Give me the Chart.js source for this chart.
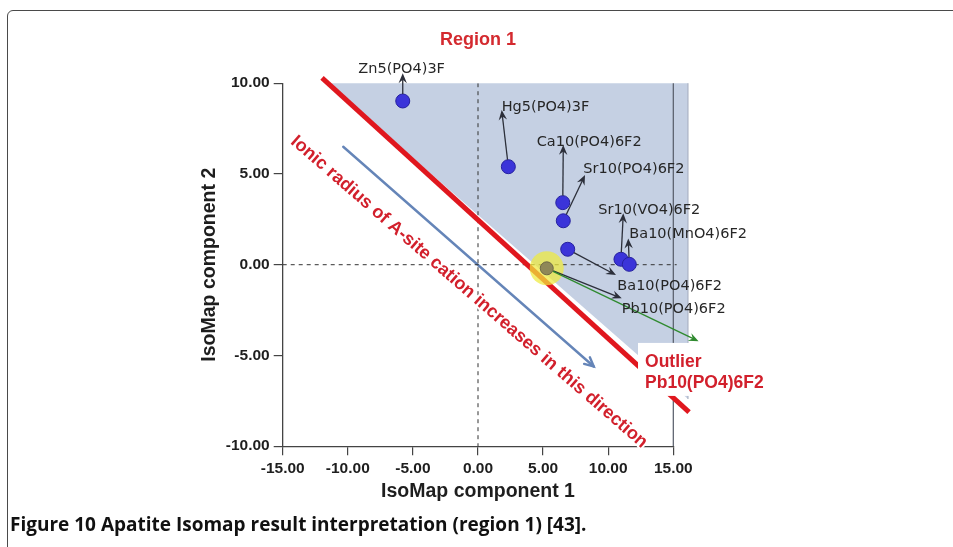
<!DOCTYPE html>
<html>
<head>
<meta charset="utf-8">
<script src="https://cdn.jsdelivr.net/npm/chart.js@4.4.1/dist/chart.umd.min.js"></script>
<style>
  html, body { margin: 0; padding: 0; background: #fff; overflow: hidden; }
  #frame { position: absolute; left: 7px; top: 10px; width: 1000px; height: 600px; border: 1.5px solid #4a4a4a; border-radius: 6px; box-sizing: border-box; }
  #wrap { position: absolute; left: 0; top: 0; width: 953px; height: 547px; }
  #caption { position: absolute; left: 10px; top: 511px; font-family: "Open Sans"; font-weight: 700; font-size: 17px; color: #111; white-space: nowrap; }
</style>
</head>
<body>
<div id="frame"></div>
<div id="wrap"><canvas id="chart" width="953" height="547"></canvas></div>
<div id="caption">Figure 10 Apatite Isomap result interpretation (region 1) [43].</div>
<script>
// axis ticks
const xTicks = [-15, -10, -5, 0, 5, 10, 15];
const yTicks = [-10, -5, 0, 5, 10];

// compounds in region 1 (IsoMap component 1 / 2)
const compounds = ['Zn5(PO4)3F', 'Hg5(PO4)3F', 'Ca10(PO4)6F2', 'Sr10(PO4)6F2', 'Ba10(PO4)6F2', 'Sr10(VO4)6F2', 'Ba10(MnO4)6F2'];
const comp1 = [-5.78, 2.33, 6.51, 6.55, 6.89, 10.98, 11.62];
const comp2 = [9.02, 5.40, 3.42, 2.42, 0.85, 0.30, 0.02];

// the outlier
const outlierName = 'Pb10(PO4)6F2';
const outlier1 = [5.28];
const outlier2 = [-0.20];

// label arrows: tip and text anchor (same order as compounds, then outlier)
const tipX = [-5.78, 1.82, 6.55, 8.22, 10.60, 11.16, 11.54, 11.04];
const tipY = [10.55, 8.52, 6.60, 4.94, -0.57, 2.83, 1.45, -1.85];
const labelX = [-9.19, 1.82, 4.51, 8.09, 10.70, 9.24, 11.62, 11.04];
const labelY = [10.56, 8.47, 6.54, 5.05, -1.39, 2.79, 1.47, -2.66];

// green arrow from the outlier
const greenTip = [16.94, -4.22];

// region 1 boundary and shaded area
const boundX = [-11.98, 16.21];
const boundY = [10.29, -8.12];
const regionX = [-11.54, 16.13, 16.13];
const regionY = [10, 10, -7.4];

// "ionic radius" direction arrow and its text
const dirX = [-10.35, 8.89];
const dirY = [6.50, -5.61];
const dirText = 'Ionic radius of A-site cation increases in this direction';
const dirTextX = [-14.21, 12.83];
const dirTextY = [6.92, -9.93];

// outlier call-out box
const boxX = [12.29, 23.58];
const boxY = [-4.31, -7.23];
const boxText = ['Outlier', 'Pb10(PO4)6F2'];
const boxTextX = [12.83, 12.83];
const boxTextY = [-5.64, -6.79];

const pts = (xs, ys) => xs.map((x, i) => ({ x, y: ys[i] }));

function arrowHead(ctx, x1, y1, x2, y2, color, len) {
  const a = Math.atan2(y2 - y1, x2 - x1), c = Math.cos(a), s = Math.sin(a), w = len * 0.42;
  ctx.fillStyle = color;
  ctx.beginPath();
  ctx.moveTo(x2, y2);
  ctx.lineTo(x2 - len * c + w * s, y2 - len * s - w * c);
  ctx.lineTo(x2 - len * 0.65 * c, y2 - len * 0.65 * s);
  ctx.lineTo(x2 - len * c - w * s, y2 - len * s + w * c);
  ctx.closePath();
  ctx.fill();
}

function arrow(ctx, x1, y1, x2, y2, color, width, len, gap) {
  const a = Math.atan2(y2 - y1, x2 - x1), c = Math.cos(a), s = Math.sin(a);
  ctx.strokeStyle = color; ctx.lineWidth = width;
  ctx.beginPath();
  ctx.moveTo(x1 + gap * c, y1 + gap * s);
  ctx.lineTo(x2 - len * 0.6 * c, y2 - len * 0.6 * s);
  ctx.stroke();
  arrowHead(ctx, x1, y1, x2, y2, color, len);
}

const overlay = {
  id: 'overlay',
  beforeDatasetsDraw(chart) {
    const { ctx, scales: { x, y } } = chart;
    ctx.save();
    // shaded region
    ctx.fillStyle = '#c5d0e3';
    ctx.beginPath();
    regionX.forEach((v, i) => {
      const px = x.getPixelForValue(v), py = y.getPixelForValue(regionY[i]);
      i ? ctx.lineTo(px, py) : ctx.moveTo(px, py);
    });
    ctx.closePath();
    ctx.fill();
    ctx.strokeStyle = '#a3abbd'; ctx.lineWidth = 1;
    ctx.beginPath();
    ctx.moveTo(x.getPixelForValue(regionX[1]), y.getPixelForValue(regionY[1]));
    ctx.lineTo(x.getPixelForValue(regionX[2]), y.getPixelForValue(regionY[2]));
    ctx.stroke();

    // direction arrow
    const ax1 = x.getPixelForValue(dirX[0]), ay1 = y.getPixelForValue(dirY[0]);
    const ax2 = x.getPixelForValue(dirX[1]), ay2 = y.getPixelForValue(dirY[1]);
    ctx.strokeStyle = '#6585b8'; ctx.lineWidth = 2.4; ctx.lineCap = 'round';
    ctx.beginPath(); ctx.moveTo(ax1, ay1); ctx.lineTo(ax2, ay2); ctx.stroke();
    const a = Math.atan2(ay2 - ay1, ax2 - ax1);
    ctx.beginPath();
    ctx.moveTo(ax2 - 10 * Math.cos(a - 0.45), ay2 - 10 * Math.sin(a - 0.45));
    ctx.lineTo(ax2, ay2);
    ctx.lineTo(ax2 - 10 * Math.cos(a + 0.45), ay2 - 10 * Math.sin(a + 0.45));
    ctx.stroke();
    ctx.restore();
  },
  afterDatasetsDraw(chart) {
    const { ctx, scales: { x, y } } = chart;
    ctx.save();
    const srcX = comp1.concat(outlier1), srcY = comp2.concat(outlier2);
    const names = compounds.concat([outlierName]);

    // label arrows
    names.forEach((n, i) => {
      arrow(ctx, x.getPixelForValue(srcX[i]), y.getPixelForValue(srcY[i]),
        x.getPixelForValue(tipX[i]), y.getPixelForValue(tipY[i]), '#2c2f3a', 1.3, 10, 7);
    });
    arrow(ctx, x.getPixelForValue(outlier1[0]), y.getPixelForValue(outlier2[0]),
      x.getPixelForValue(greenTip[0]), y.getPixelForValue(greenTip[1]), '#2f8a2f', 1.3, 10, 7);

    // compound labels
    ctx.font = '14.5px "DejaVu Sans"';
    ctx.fillStyle = '#262626';
    ctx.textAlign = 'left'; ctx.textBaseline = 'alphabetic';
    names.forEach((n, i) => ctx.fillText(n, x.getPixelForValue(labelX[i]), y.getPixelForValue(labelY[i])));

    // rotated direction text
    const tx1 = x.getPixelForValue(dirTextX[0]), ty1 = y.getPixelForValue(dirTextY[0]);
    const tx2 = x.getPixelForValue(dirTextX[1]), ty2 = y.getPixelForValue(dirTextY[1]);
    const len = Math.hypot(tx2 - tx1, ty2 - ty1);
    ctx.font = 'bold 16px "Liberation Sans"';
    const size = 16 * len / ctx.measureText(dirText).width;
    ctx.font = 'bold ' + size.toFixed(2) + 'px "Liberation Sans"';
    ctx.translate((tx1 + tx2) / 2, (ty1 + ty2) / 2);
    ctx.rotate(Math.atan2(ty2 - ty1, tx2 - tx1));
    ctx.textAlign = 'center'; ctx.textBaseline = 'middle';
    ctx.lineJoin = 'round';
    ctx.strokeStyle = '#fff'; ctx.lineWidth = 4;
    ctx.strokeText(dirText, 0, 0);
    ctx.fillStyle = '#d2202c';
    ctx.fillText(dirText, 0, 0);
    ctx.setTransform(1, 0, 0, 1, 0, 0);

    // outlier call-out
    const bx1 = x.getPixelForValue(boxX[0]), by1 = y.getPixelForValue(boxY[0]);
    const bx2 = x.getPixelForValue(boxX[1]), by2 = y.getPixelForValue(boxY[1]);
    ctx.fillStyle = '#fff';
    ctx.fillRect(bx1, by1, bx2 - bx1, by2 - by1);
    ctx.font = 'bold 17.5px "Liberation Sans"';
    ctx.fillStyle = '#d2202c';
    ctx.textAlign = 'left'; ctx.textBaseline = 'alphabetic';
    boxText.forEach((t, i) => ctx.fillText(t, x.getPixelForValue(boxTextX[i]), y.getPixelForValue(boxTextY[i])));
    ctx.restore();
  }
};

const tickFont = { family: 'Liberation Sans', size: 15.5, weight: 'bold' };
const titleFont = { family: 'Liberation Sans', size: 19.5, weight: 'bold' };

new Chart(document.getElementById('chart'), {
  data: {
    datasets: [
      { type: 'scatter', data: pts(comp1, comp2), pointRadius: 7, backgroundColor: '#3b34d9', borderColor: '#2621a0', borderWidth: 1, order: 0 },
      { type: 'scatter', data: pts(outlier1, outlier2), pointRadius: 6.5, backgroundColor: '#8f8858', borderColor: '#6e6946', borderWidth: 1, order: 1 },
      { type: 'scatter', data: pts(outlier1, outlier2), pointRadius: 17, backgroundColor: 'rgba(238,234,60,0.72)', borderWidth: 0, order: 2, clip: false },
      { type: 'line', data: pts(boundX, boundY), borderColor: '#e0171e', borderWidth: 5, pointRadius: 0, borderCapStyle: 'butt', clip: false, order: 3 },
      { type: 'line', data: pts([0, 0], [10, -10]), borderColor: '#333', borderWidth: 1, borderDash: [4, 4], pointRadius: 0, order: 5 },
      { type: 'line', data: pts([-15, 15.26], [0, 0]), borderColor: '#333', borderWidth: 1, borderDash: [4, 4], pointRadius: 0, clip: false, order: 5 },
      { type: 'line', data: pts([15, 15], [10, -10]), borderColor: '#555a66', borderWidth: 1.2, pointRadius: 0, clip: false, order: 6 }
    ]
  },
  options: {
    responsive: false,
    animation: false,
    events: [],
    layout: { padding: { left: 197, right: 279.7, top: 0, bottom: 40.8 } },
    plugins: {
      legend: { display: false },
      tooltip: { enabled: false },
      title: {
        display: true, text: 'Region 1', color: '#d42a2f', fullSize: false,
        font: { family: 'Liberation Sans', size: 18, weight: 'bold' },
        padding: { top: 29, bottom: 32.6 }
      }
    },
    scales: {
      x: {
        type: 'linear', min: -15, max: 15,
        afterFit(s) { s.height = 60; },
        afterBuildTicks(s) { s.ticks = xTicks.map(v => ({ value: v })); },
        ticks: { callback: v => v.toFixed(2), font: tickFont, color: '#1e1e1e', padding: 4, maxRotation: 0, autoSkip: false },
        grid: { drawOnChartArea: false, drawTicks: true, tickLength: 9, color: '#444', lineWidth: 1.2 },
        border: { display: true, color: '#444', width: 1.3 },
        title: { display: true, text: 'IsoMap component 1', font: titleFont, color: '#1e1e1e', padding: { top: 0, bottom: 3 } }
      },
      y: {
        type: 'linear', min: -10, max: 10,
        afterFit(s) { s.width = 85.7; },
        afterBuildTicks(s) { s.ticks = yTicks.map(v => ({ value: v })); },
        ticks: { callback: v => v.toFixed(2), font: tickFont, color: '#1e1e1e', padding: 4, autoSkip: false },
        grid: { drawOnChartArea: false, drawTicks: true, tickLength: 9, color: '#444', lineWidth: 1.2 },
        border: { display: true, color: '#444', width: 1.3 },
        title: { display: true, text: 'IsoMap component 2', font: titleFont, color: '#1e1e1e', padding: { top: 1, bottom: 0 } }
      }
    }
  },
  plugins: [overlay]
});

// fit the caption to the width it has in the figure
const cap = document.getElementById('caption');
let fs = 17;
while (cap.scrollWidth > 575 && fs > 12) { fs -= 0.25; cap.style.fontSize = fs + 'px'; }
while (cap.scrollWidth < 571 && fs < 22) { fs += 0.25; cap.style.fontSize = fs + 'px'; }
</script>
</body>
</html>
